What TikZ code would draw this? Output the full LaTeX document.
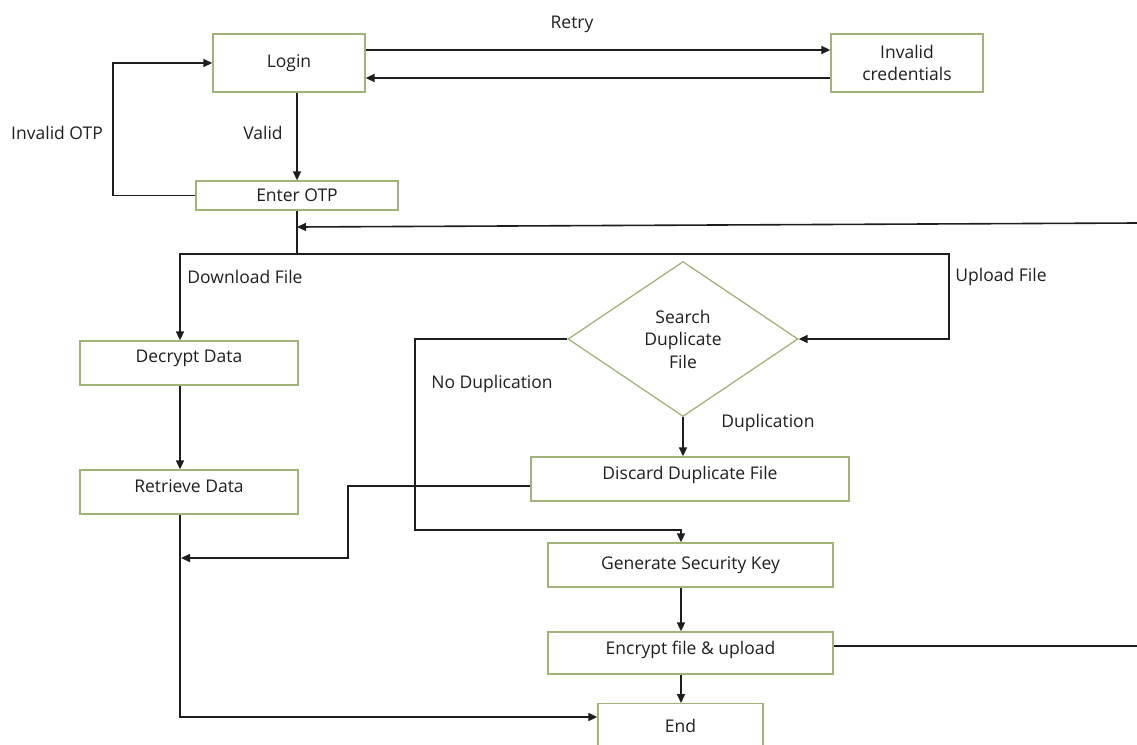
\documentclass[tikz,border=0pt]{standalone}
\usepackage{fontspec}
\setmainfont{Open Sans}
\usetikzlibrary{arrows.meta,shapes.geometric}
\definecolor{boxgreen}{RGB}{160,180,120}
\definecolor{linecol}{RGB}{30,30,30}
\definecolor{txtcol}{RGB}{32,32,32}
\begin{document}
\begin{tikzpicture}[x=1pt,y=-1pt,
  font=\fontsize{17.5}{22.5}\selectfont, text=txtcol,
  box/.style={draw=boxgreen, line width=1.3pt, inner sep=0pt, align=center},
  raise/.style={text depth=#1},
  conn/.style={draw=linecol, line width=1.6pt},
  arr/.style={conn, -{Triangle[length=9pt,width=8pt]}},
  lbl/.style={inner sep=0pt}]
\useasboundingbox (0,0) rectangle (1137,744);
\clip (0,0) rectangle (1137,744);
\fill[white] (0,0) rectangle (1137,744);

% boxes
\node[box, minimum width=152pt, minimum height=58pt] (login) at (289,63) {Login};
\node[box, minimum width=152pt, minimum height=58pt] (invalid) at (907,63) {Invalid\\credentials};
\node[box, minimum width=202pt, minimum height=29pt] (otp) at (297,195.5) {Enter OTP};
\node[box, raise=13pt, minimum width=218pt, minimum height=44pt] (decrypt) at (189,363) {Decrypt Data};
\node[box, raise=11pt, minimum width=218pt, minimum height=44pt] (retrieve) at (189,492) {Retrieve Data};
\node[box, diamond, minimum width=230pt, minimum height=155pt] (search) at (683,339) {Search\\Duplicate\\File};
\node[box, raise=13pt, minimum width=318pt, minimum height=44pt] (discard) at (690,479) {Discard Duplicate File};
\node[box, minimum width=285pt, minimum height=44pt] (generate) at (690.5,565) {Generate Security Key};
\node[box, raise=11pt, minimum width=285pt, minimum height=42pt] (encrypt) at (690.5,653) {Encrypt file \& upload};
\node[box, minimum width=165pt, minimum height=44pt, anchor=north] (end) at (680.5,703) {End};

% labels
\node[lbl] (retry) at (572,24) {Retry};
\node[lbl] (valid) at (263,133) {Valid};
\node[lbl] (invotp) at (57,133) {Invalid OTP};
\node[lbl] (dl) at (245,277) {Download File};
\node[lbl] (ul) at (1001,277) {Upload File};
\node[lbl] (nodup) at (492,384) {No Duplication};
\node[lbl] (dup) at (768,423) {Duplication};

% helper coordinates
\coordinate (split) at (297,254);
\coordinate (merge) at (297,227);
\coordinate (rin) at (1137,223);
\coordinate (rout) at (1137,646);

% connectors
\draw[arr] ([yshift=13pt]login.east) -- ([yshift=13pt]invalid.west);
\draw[arr] ([yshift=-15pt]invalid.west) -- ([yshift=-15pt]login.east);
\draw[arr] (login.south -| otp.north) -- (otp.north);
\draw[arr] (otp.west) -- (otp.west -| 113,0) -- (login.west -| 113,0) -- (login.west);
\draw[conn] (otp.south) -- (split);
\draw[arr] (rin) -- (merge);
\draw[arr] (split) -- (180,254) -- (decrypt.north -| 180,0);
\draw[arr] (split) -- (949,254) -- (search.east -| 949,0) -- (search.east);
\draw[arr] (decrypt.south -| 180,0) -- (retrieve.north -| 180,0);
\draw[arr] (retrieve.south -| 180,0) -- (180,717) -- (end.west |- 0,717);
\draw[arr] ([yshift=-7pt]discard.west) -- (348,486) -- (348,558) -- (181,558);
\draw[arr] (search.west) -- (415,339) -- (415,530) -- (681,530) -- (generate.north -| 681,0);
\draw[arr] (search.south) -- (search.south |- discard.north);
\draw[arr] (generate.south -| 681,0) -- (encrypt.north -| 681,0);
\draw[arr] (encrypt.south -| 681,0) -- (end.north -| 681,0);
\draw[conn] ([yshift=7pt]encrypt.east) -- (rout);
\end{tikzpicture}
\end{document}
